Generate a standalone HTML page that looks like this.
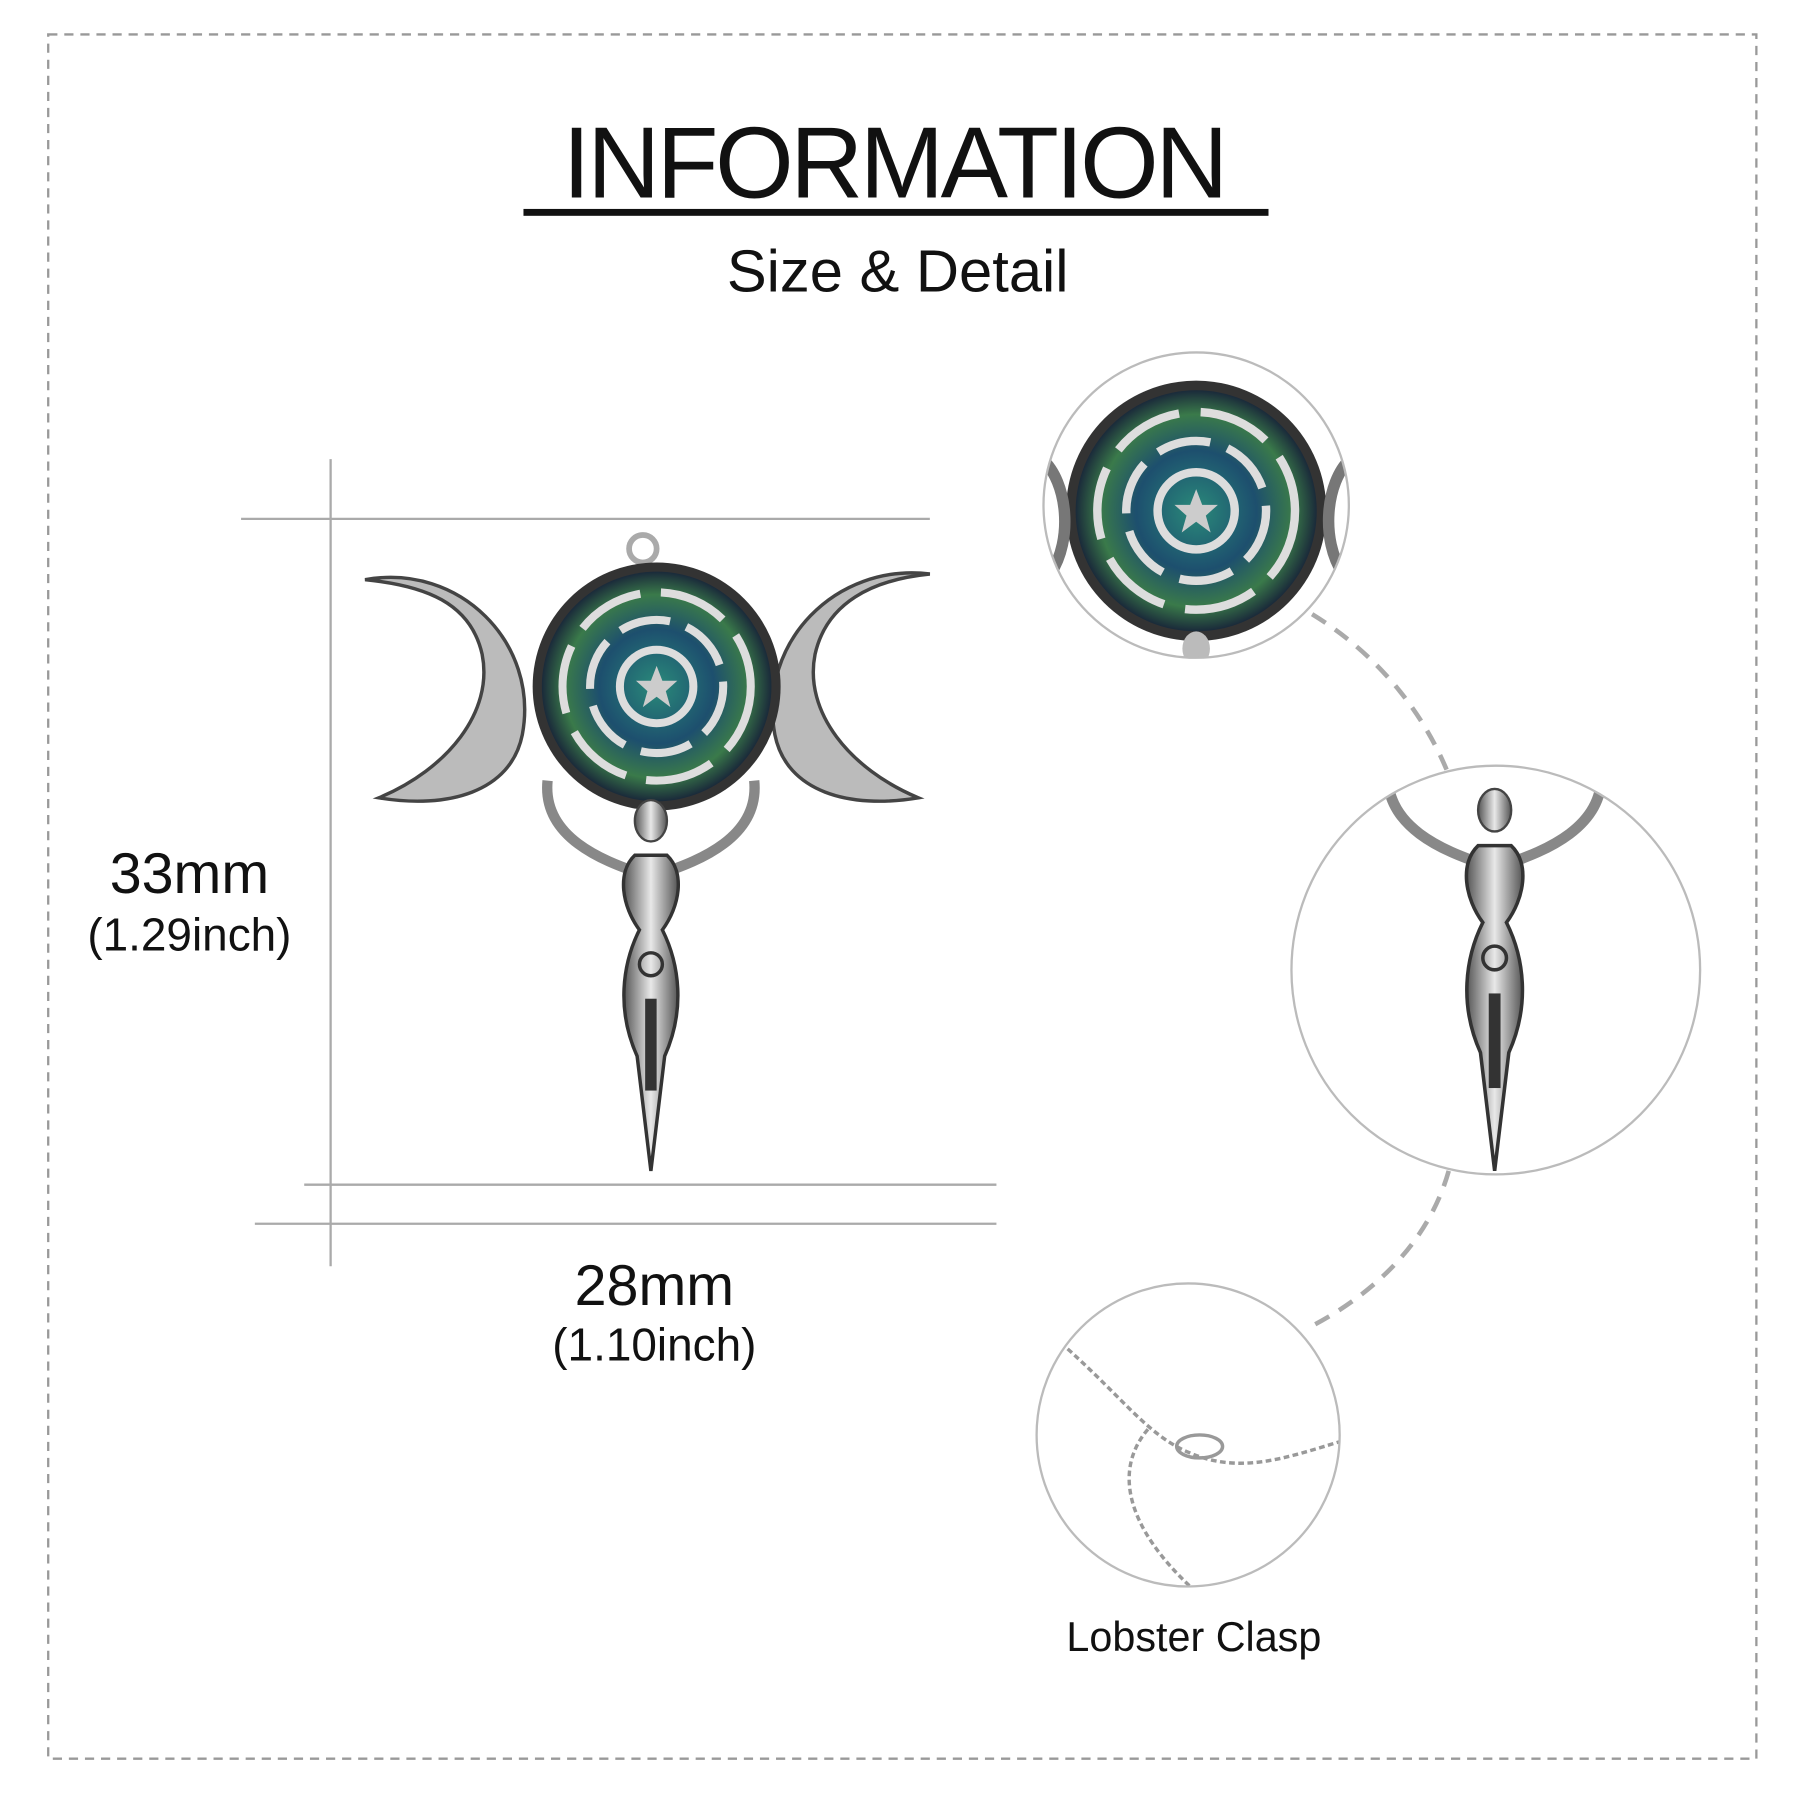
<!DOCTYPE html>
<html><head><meta charset="utf-8"><style>html,body{margin:0;padding:0;background:#fff}svg{display:block}</style></head>
<body>
<svg width="1800" height="1800" viewBox="0 0 1568 1568" xmlns="http://www.w3.org/2000/svg" font-family="Liberation Sans, sans-serif">
<defs>
<radialGradient id="ab" cx="50%" cy="50%" r="50%">
<stop offset="0" stop-color="#2a8a7a"/><stop offset="0.5" stop-color="#1d4f6e"/><stop offset="0.8" stop-color="#3a7a4a"/><stop offset="1" stop-color="#1a2a3a"/>
</radialGradient>
<linearGradient id="sil" x1="0" x2="1"><stop offset="0" stop-color="#555"/><stop offset="0.5" stop-color="#e8e8e8"/><stop offset="1" stop-color="#555"/></linearGradient>
<clipPath id="c1"><circle cx="1042" cy="440" r="133"/></clipPath>
<clipPath id="c2"><circle cx="1303" cy="845" r="178"/></clipPath>
<clipPath id="c3"><circle cx="1035" cy="1250" r="132"/></clipPath>
<g id="disc">
<circle r="108" fill="#333"/><circle r="100" fill="url(#ab)"/>
<g fill="none" stroke="#ddd" stroke-width="7">
<circle r="82" stroke-dasharray="60 18"/><circle r="58" stroke-dasharray="45 15"/><circle r="32"/>
</g>
<path d="M0,-18 L5,-5 18,-5 8,4 12,18 0,9 -12,18 -8,4 -18,-5 -5,-5Z" fill="#ccc"/>
</g>
<g id="fig">
<path d="M-90,-10 C-95,40 -40,60 -12,70 M90,-10 C95,40 40,60 12,70" fill="none" stroke="#888" stroke-width="9"/>
<ellipse cx="0" cy="25" rx="14" ry="18" fill="url(#sil)" stroke="#444" stroke-width="2"/>
<path d="M-14,55 C-30,70 -25,100 -10,120 C-25,150 -30,190 -12,230 L0,330 L12,230 C30,190 25,150 10,120 C25,100 30,70 14,55Z" fill="url(#sil)" stroke="#333" stroke-width="3"/>
<circle cx="0" cy="150" r="10" fill="none" stroke="#333" stroke-width="3"/>
<rect x="-5" y="180" width="10" height="80" fill="#333"/>
</g>
</defs>
<rect x="42" y="30" width="1488" height="1502" fill="none" stroke="#999" stroke-width="2" stroke-dasharray="8 6"/>
<text x="780" y="172" font-size="88" text-anchor="middle" textLength="580" fill="#111">INFORMATION</text>
<rect x="456" y="182" width="649" height="6" fill="#111"/>
<text x="782" y="254" font-size="52" text-anchor="middle" fill="#111">Size &amp; Detail</text>
<g stroke="#aaa" stroke-width="2">
<line x1="288" y1="400" x2="288" y2="1103"/>
<line x1="210" y1="452" x2="810" y2="452"/>
<line x1="265" y1="1032" x2="868" y2="1032"/>
<line x1="222" y1="1066" x2="868" y2="1066"/>
</g>
<text x="165" y="778" font-size="50" text-anchor="middle" fill="#111">33mm</text>
<text x="165" y="828" font-size="40" text-anchor="middle" fill="#111">(1.29inch)</text>
<text x="570" y="1137" font-size="50" text-anchor="middle" fill="#111">28mm</text>
<text x="570" y="1185" font-size="40" text-anchor="middle" fill="#111">(1.10inch)</text>
<!-- pendant -->
<path d="M318,505 C400,490 470,560 455,640 C445,690 390,705 330,695 C390,670 430,620 420,570 C410,525 370,510 318,505Z" fill="#bbb" stroke="#444" stroke-width="3"/>
<path d="M810,500 C728,490 660,560 675,640 C685,690 740,705 800,695 C740,670 700,620 710,570 C720,525 760,505 810,500Z" fill="#bbb" stroke="#444" stroke-width="3"/>
<circle cx="560" cy="478" r="12" fill="none" stroke="#aaa" stroke-width="5"/>
<use href="#disc" x="572" y="598"/>
<use href="#fig" x="567" y="690"/>
<!-- zoom circles -->
<g clip-path="url(#c1)"><use href="#disc" transform="translate(1042,445) scale(1.05)"/>
<path d="M908,400 C930,420 935,470 915,500 M1176,400 C1155,420 1150,470 1170,500" stroke="#777" stroke-width="10" fill="none"/>
<ellipse cx="1042" cy="565" rx="12" ry="15" fill="#bbb"/></g>
<circle cx="1042" cy="440" r="133" fill="none" stroke="#bbb" stroke-width="2"/>
<g clip-path="url(#c2)"><use href="#fig" transform="translate(1302,680) scale(1.03)"/></g>
<circle cx="1303" cy="845" r="178" fill="none" stroke="#bbb" stroke-width="2"/>
<g clip-path="url(#c3)" fill="none" stroke="#999" stroke-width="3">
<path d="M930,1175 C980,1220 1000,1250 1035,1265 C1080,1285 1120,1270 1170,1255" stroke-dasharray="5 3"/>
<path d="M1000,1245 C970,1280 980,1330 1040,1385" stroke-dasharray="5 3"/>
<ellipse cx="1045" cy="1260" rx="20" ry="10"/>
</g>
<circle cx="1035" cy="1250" r="132" fill="none" stroke="#bbb" stroke-width="2"/>
<path d="M1143,535 C1200,570 1240,620 1262,675" fill="none" stroke="#aaa" stroke-width="4" stroke-dasharray="14 10"/>
<path d="M1262,1020 C1245,1080 1200,1125 1143,1155" fill="none" stroke="#aaa" stroke-width="4" stroke-dasharray="14 10"/>
<text x="1040" y="1438" font-size="36" text-anchor="middle" fill="#111">Lobster Clasp</text>
</svg>
</body></html>
